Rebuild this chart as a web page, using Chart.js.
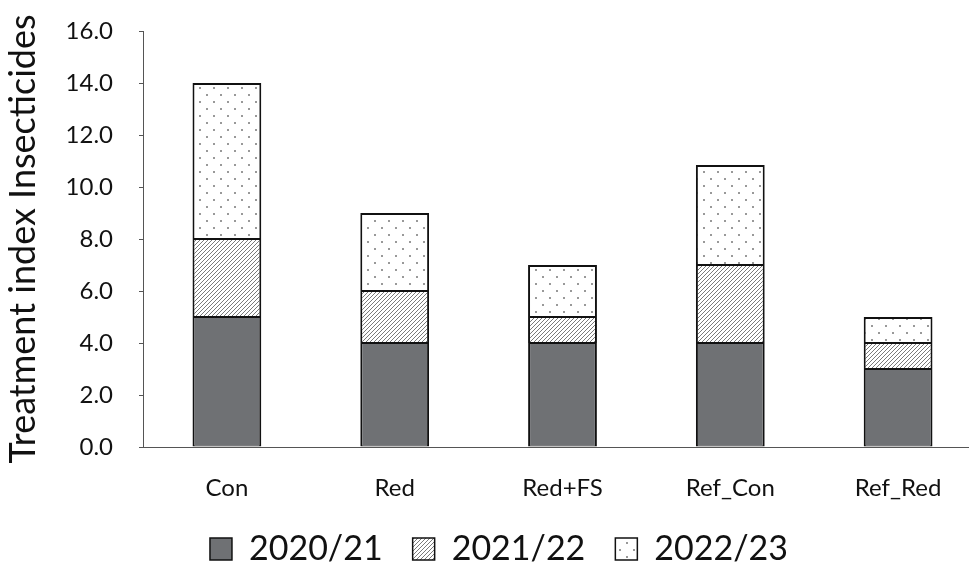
<!DOCTYPE html>
<html>
<head>
<meta charset="utf-8">
<script src="https://cdn.jsdelivr.net/npm/chart.js@4.4.1/dist/chart.umd.min.js"></script>
<style>
    html, body { margin: 0; padding: 0; background: #fff; overflow: hidden; }
    #wrap { position: absolute; left: 0; top: 0; width: 969px; height: 562px; overflow: hidden; }
</style>
</head>
<body>
<div id="wrap">
    <canvas id="chart" width="985" height="576"></canvas>
</div>
<script>
// Data
const categories = ['Con', 'Red', 'Red+FS', 'Ref_Con', 'Ref_Red'];
const season2020 = [5, 4, 4, 4, 3];
const season2021 = [3, 2, 1, 3, 1];
const season2022 = [6, 3, 2, 3.85, 1];
const seasonLabels = ['2020/21', '2021/22', '2022/23'];
const yMin = 0, yMax = 16, yStep = 2;

// Fill patterns: diagonal hatch and sparse dots
function makeHatch() {
    const c = document.createElement('canvas');
    c.width = 4; c.height = 4;
    const g = c.getContext('2d');
    g.fillStyle = '#fff';
    g.fillRect(0, 0, 4, 4);
    g.strokeStyle = '#7a7a7a';
    g.lineWidth = 1;
    g.beginPath();
    g.moveTo(-1, 5); g.lineTo(5, -1);
    g.moveTo(-1, 1); g.lineTo(1, -1);
    g.moveTo(3, 5); g.lineTo(5, 3);
    g.stroke();
    return g.createPattern(c, 'repeat');
}

function makeDots() {
    const c = document.createElement('canvas');
    c.width = 14; c.height = 14;
    const g = c.getContext('2d');
    g.fillStyle = '#fff';
    g.fillRect(0, 0, 14, 14);
    g.fillStyle = '#999';
    g.fillRect(3, 3, 2, 2);
    g.fillRect(10, 10, 2, 2);
    return g.createPattern(c, 'repeat');
}

const hatch = makeHatch();
const dots = makeDots();

// inner edges are shared by two segments, so give them half width
const innerBorder = { top: 1, bottom: 1, left: 2, right: 2 };
const topBorder = { top: 2, bottom: 1, left: 2, right: 2 };

const ctx = document.getElementById('chart').getContext('2d');
const chart = new Chart(ctx, {
    type: 'bar',
    data: {
        labels: categories,
        datasets: [{
            label: seasonLabels[0],
            data: season2020,
            backgroundColor: '#6f7174',
            borderColor: '#111',
            borderWidth: innerBorder,
            borderSkipped: false
        }, {
            label: seasonLabels[1],
            data: season2021,
            backgroundColor: hatch,
            borderColor: '#111',
            borderWidth: innerBorder,
            borderSkipped: false
        }, {
            label: seasonLabels[2],
            data: season2022,
            backgroundColor: dots,
            borderColor: '#111',
            borderWidth: topBorder,
            borderSkipped: false
        }]
    },
    options: {
        responsive: false,
        animation: false,
        datasets: {
            bar: {
                barPercentage: 0.41,
                categoryPercentage: 1
            }
        },
        layout: {
            padding: { top: 31, right: 3, left: 16, bottom: 0 }
        },
        plugins: {
            legend: {
                position: 'bottom',
                labels: {
                    color: '#111',
                    boxWidth: 22,
                    boxHeight: 22,
                    padding: 30,
                    font: { family: 'Lato', size: 34, lineHeight: 1 },
                    generateLabels: function (chart) {
                        const items = Chart.defaults.plugins.legend.labels.generateLabels(chart);
                        items.forEach(it => { it.lineWidth = 1.5; });
                        return items;
                    }
                }
            },
            tooltip: { enabled: false }
        },
        scales: {
            x: {
                stacked: true,
                grid: { display: false, drawTicks: false },
                border: { display: true, color: '#555', width: 1 },
                ticks: {
                    color: '#111',
                    padding: 27,
                    font: { family: 'Lato', size: 24 }
                },
                afterFit: function (scale) { scale.height = 55; }
            },
            y: {
                stacked: true,
                min: yMin,
                max: yMax,
                grid: { drawOnChartArea: false, drawTicks: true, tickLength: 4, color: '#555' },
                border: { display: true, color: '#555', width: 1 },
                ticks: {
                    stepSize: yStep,
                    color: '#111',
                    padding: 26,
                    font: { family: 'Lato', size: 24 },
                    callback: function (v) { return v.toFixed(1); }
                },
                title: {
                    display: true,
                    text: 'Treatment index Insecticides',
                    color: '#111',
                    padding: { top: -14, bottom: 0 },
                    font: { family: 'Lato', size: 36 }
                },
                afterFit: function (scale) {
                    scale.width = 127;
                    scale.paddingTop = 0;
                    scale.paddingBottom = 0;
                }
            }
        }
    }
});
</script>
</body>
</html>
